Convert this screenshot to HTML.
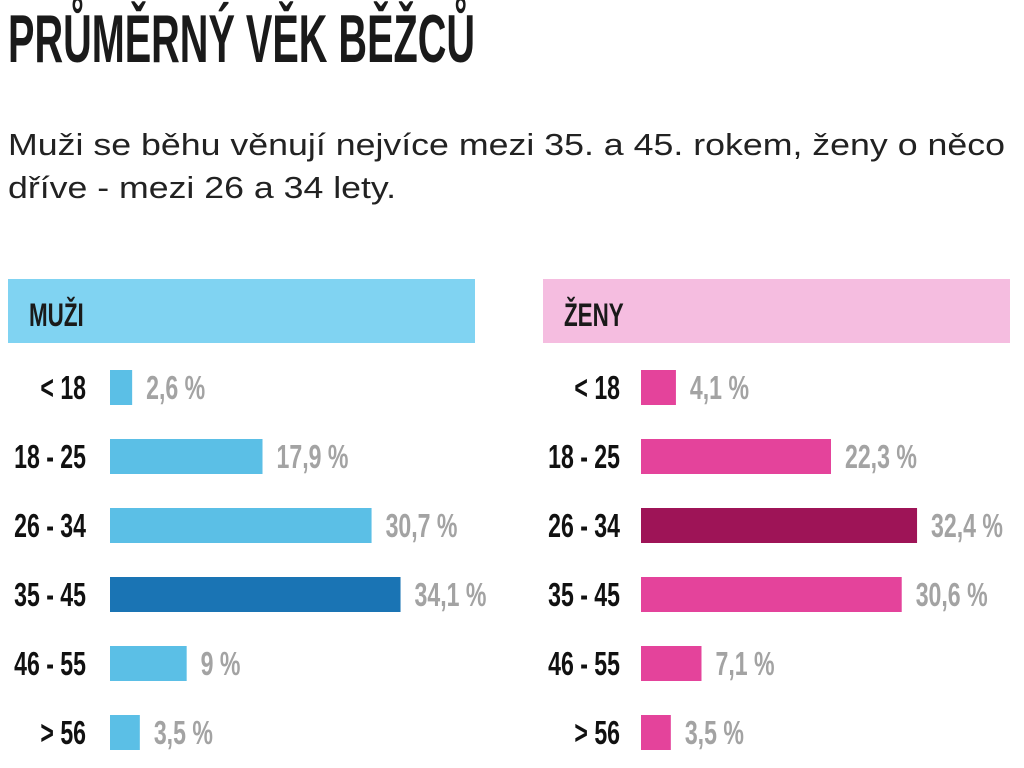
<!DOCTYPE html>
<html><head><meta charset="utf-8"><style>
html,body{margin:0;padding:0;background:#fff;}
svg{display:block;font-family:"Liberation Sans",sans-serif;}
</style></head><body>
<svg id="chart" width="1024" height="768" viewBox="0 0 1024 768">
<text x="8" y="62" font-size="68" font-weight="bold" fill="#1a1a1a" textLength="467" lengthAdjust="spacingAndGlyphs">PRŮMĚRNÝ VĚK BĚŽCŮ</text>
<text x="8" y="155" font-size="31" fill="#222" textLength="997" lengthAdjust="spacingAndGlyphs">Muži se běhu věnují nejvíce mezi 35. a 45. rokem, ženy o něco</text>
<text x="8" y="198" font-size="31" fill="#222" textLength="388" lengthAdjust="spacingAndGlyphs">dříve - mezi 26 a 34 lety.</text>
<rect x="8" y="279" width="467" height="64" fill="#80d3f2"/>
<g transform="translate(29,326) scale(0.7,1)"><text font-size="32" font-weight="bold" fill="#1a1a1a">MUŽI</text></g>
<rect x="543" y="279" width="467" height="64" fill="#f5bde0"/>
<g transform="translate(564,326) scale(0.7,1)"><text font-size="32" font-weight="bold" fill="#1a1a1a">ŽENY</text></g>
<g id="bars"></g>
</svg>
<script>
const categories = ["< 18","18 - 25","26 - 34","35 - 45","46 - 55","> 56"];
const menValues = [2.6,17.9,30.7,34.1,9,3.5];
const womenValues = [4.1,22.3,32.4,30.6,7.1,3.5];
const menLabels = ["2,6 %","17,9 %","30,7 %","34,1 %","9 %","3,5 %"];
const womenLabels = ["4,1 %","22,3 %","32,4 %","30,6 %","7,1 %","3,5 %"];
const NS = "http://www.w3.org/2000/svg";
const g = document.getElementById('bars');
const scaleX = v => v * 8.52;
const rowY = i => 387 + i * 69;
function mk(tag, attrs){const e=document.createElementNS(NS,tag);for(const k in attrs)e.setAttribute(k,attrs[k]);return e;}
function cond(x,y,txt,size,fill,anchorEnd,name){
  const gg=mk('g',{transform:`translate(${x},${y}) scale(0.7,1)`});
  
  
  const t=mk('text',{'font-size':size,'font-weight':'bold',fill:fill});
  if(anchorEnd)t.setAttribute('text-anchor','end');
  t.textContent=txt;gg.appendChild(t);g.appendChild(gg);
}
function series(vals,labels,x0,labelRight,base,hi,prefix){
  let max=Math.max(...vals);
  vals.forEach((v,i)=>{
    const cy=rowY(i);
    cond(labelRight,cy+12,categories[i],33,'#111',true,prefix+'-category-label');
    const w=scaleX(v);
    const r=mk('rect',{x:x0,y:cy-17,width:w,height:35,fill:v===max?hi:base});
    
    
    g.appendChild(r);
    cond(x0+w+14,cy+12,labels[i],33,'#a3a3a3',false,prefix+'-value-label');
  });
}
series(menValues,menLabels,110,86,'#5bbfe6','#1a74b4','men');
series(womenValues,womenLabels,641,620,'#e4439b','#9e1457','women');
</script>
</body></html>
